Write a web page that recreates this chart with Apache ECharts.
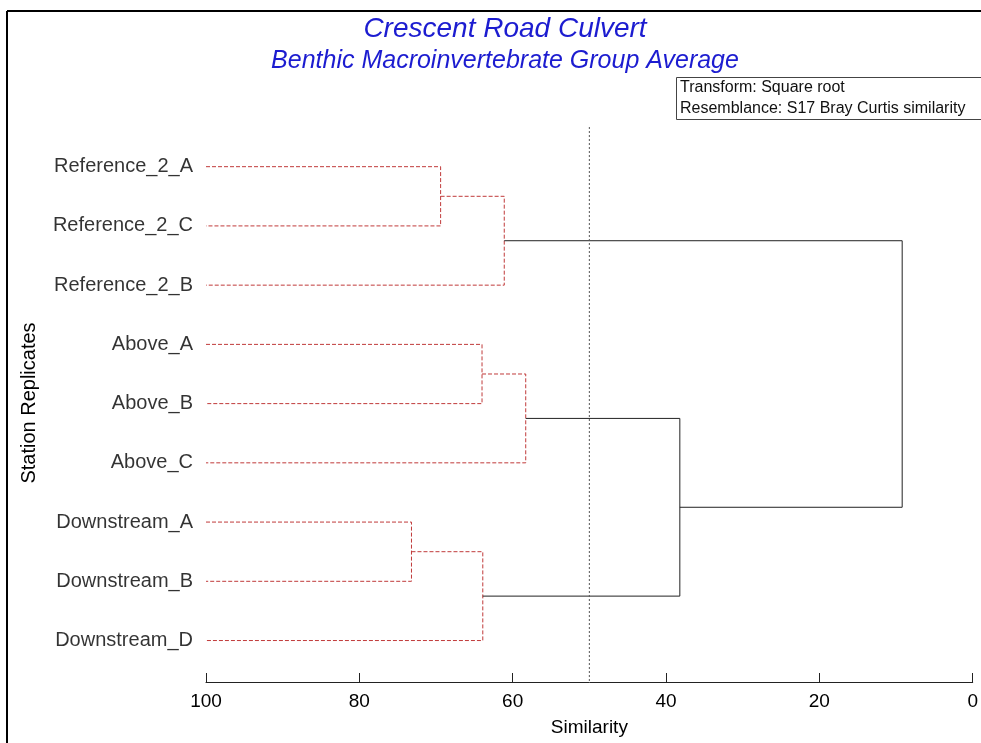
<!DOCTYPE html>
<html>
<head>
<meta charset="utf-8">
<script src="https://cdn.jsdelivr.net/npm/echarts@6/dist/echarts.min.js"></script>
<style>
  html, body { margin: 0; padding: 0; background: #fff; }
  #dendro { width: 981px; height: 743px; }
</style>
</head>
<body>
<div id="dendro"></div>
<script>
    // leaves, top to bottom
    var leaves = ['Reference_2_A', 'Reference_2_C', 'Reference_2_B', 'Above_A', 'Above_B', 'Above_C',
                  'Downstream_A', 'Downstream_B', 'Downstream_D'];
    // merges: node 9 is the first merge, node 10 the second, ...
    var mergeLeft = [0, 9, 3, 11, 6, 13, 12, 15];
    var mergeRight = [1, 2, 4, 5, 7, 8, 14, 10];
    var mergeSimilarity = [69.4, 61.1, 64.0, 58.3, 73.2, 63.9, 38.2, 9.2];
    var cutoff = 50;
    var xTicks = [0, 20, 40, 60, 80, 100];

    var font = 'Liberation Sans, Arial, sans-serif';

    // position of every node
    var nodeX = [], nodeY = [];
    for (var i = 0; i < leaves.length; i++) {
        nodeX[i] = 100;
        nodeY[i] = i;
    }
    var series = [];
    for (var k = 0; k < mergeSimilarity.length; k++) {
        var a = mergeLeft[k], b = mergeRight[k], s = mergeSimilarity[k];
        var id = leaves.length + k;
        nodeX[id] = s;
        nodeY[id] = (nodeY[a] + nodeY[b]) / 2;
        var inGroup = s > cutoff;
        series.push({
            type: 'line',
            symbol: 'none',
            silent: true,
            animation: false,
            data: [[nodeX[a], nodeY[a]], [s, nodeY[a]], [s, nodeY[b]], [nodeX[b], nodeY[b]]],
            lineStyle: {
                color: inGroup ? '#c03a3a' : '#222',
                width: 1,
                type: inGroup ? [4, 2] : 'solid'
            }
        });
    }
    // cutoff line
    series.push({
        type: 'line',
        symbol: 'none',
        silent: true,
        animation: false,
        data: [[cutoff, -0.67], [cutoff, 8.7]],
        lineStyle: { color: '#555', width: 1, type: [2, 2] }
    });
    // leaf labels
    series.push({
        type: 'scatter',
        symbolSize: 0,
        silent: true,
        animation: false,
        data: leaves.map(function (name, i) { return { name: name, value: [100, i] }; }),
        label: {
            show: true,
            position: 'left',
            distance: 13,
            formatter: '{b}',
            fontFamily: font,
            fontSize: 20,
            color: '#000'
        }
    });

    var myChart = echarts.init(document.getElementById('dendro'));
    var option = {
        backgroundColor: '#fff',
        animation: false,
        title: [{
            text: 'Crescent Road Culvert',
            left: 500,
            top: 10,
            textAlign: 'center',
            textStyle: { color: '#1c1cd0', fontSize: 28, fontStyle: 'italic', fontWeight: 'normal', fontFamily: font }
        }, {
            text: 'Benthic Macroinvertebrate Group Average',
            left: 500,
            top: 44,
            textAlign: 'center',
            textStyle: { color: '#1c1cd0', fontSize: 25, fontStyle: 'italic', fontWeight: 'normal', fontFamily: font }
        }],
        grid: { left: 206, right: 6, top: 127, bottom: 61 },
        xAxis: {
            type: 'value',
            inverse: true,
            min: 0,
            max: 100,
            interval: 20,
            name: 'Similarity',
            nameLocation: 'middle',
            nameGap: 36,
            nameTextStyle: { fontFamily: font, fontSize: 19, color: '#000' },
            axisLine: { onZero: false, lineStyle: { color: '#222', width: 1 } },
            axisTick: { inside: true, length: 9, lineStyle: { color: '#222' } },
            axisLabel: {
                margin: 10, fontFamily: font, fontSize: 19, color: '#000',
                customValues: xTicks
            },
            splitLine: { show: false }
        },
        yAxis: {
            type: 'value',
            inverse: true,
            min: -0.67,
            max: 8.7,
            show: false
        },
        graphic: [
            { type: 'line', shape: { x1: 7, y1: 11, x2: 981, y2: 11 }, style: { stroke: '#000', lineWidth: 2 } },
            { type: 'line', shape: { x1: 7, y1: 11, x2: 7, y2: 743 }, style: { stroke: '#000', lineWidth: 2 } },
            { type: 'rect', shape: { x: 676.5, y: 77.5, width: 320, height: 42 }, style: { fill: '#fff', stroke: '#444', lineWidth: 1 } },
            { type: 'text', x: 680, y: 88, style: { text: 'Transform: Square root', font: '16px ' + font, fill: '#111', verticalAlign: 'middle' } },
            { type: 'text', x: 680, y: 109, style: { text: 'Resemblance: S17 Bray Curtis similarity', font: '16px ' + font, fill: '#111', verticalAlign: 'middle' } },
            { type: 'text', x: 29, y: 403, rotation: Math.PI / 2,
              style: { text: 'Station Replicates', font: '20px ' + font, fill: '#000', align: 'center', verticalAlign: 'middle' } }
        ],
        series: series
    };
    myChart.setOption(option);
</script>
</body>
</html>
